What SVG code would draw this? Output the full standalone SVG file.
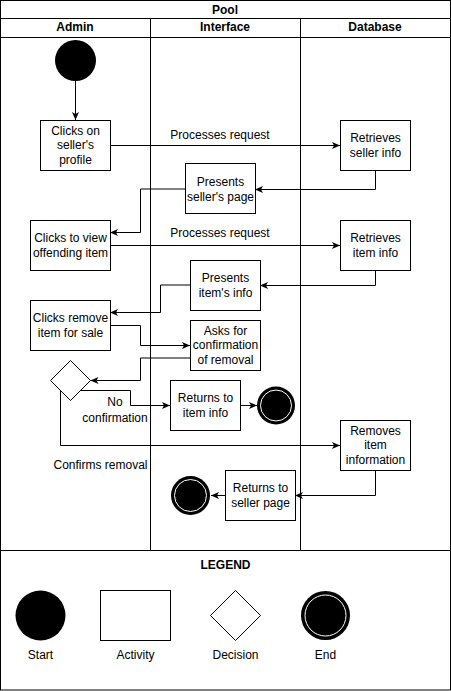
<svg xmlns="http://www.w3.org/2000/svg" width="451" height="691" viewBox="0 0 451 691">
<style>
text{font-family:"Liberation Sans",Arial,sans-serif;font-size:12px;fill:#000;text-anchor:middle}
.b{font-weight:bold}
.box{fill:#fff;stroke:#000;stroke-width:1}
.ln{fill:none;stroke:#000;stroke-width:1}
.edge{fill:none;stroke:#000;stroke-width:1;marker-end:url(#arr)}
</style>
<defs>
<marker id="arr" markerUnits="userSpaceOnUse" markerWidth="8" markerHeight="8" viewBox="0 0 8 8" refX="8" refY="4" orient="auto">
<path d="M0,0.5 L8,4 L0,7.5 L2,4 Z" fill="#000"/>
</marker>
</defs>
<rect width="451" height="691" fill="#fff"/>
<g id="pool">
<rect class="ln" x="0.5" y="0.5" width="450" height="550"/>
<line class="ln" x1="0.5" y1="18.5" x2="450.5" y2="18.5"/>
<line class="ln" x1="0.5" y1="37.5" x2="450.5" y2="37.5"/>
<line class="ln" x1="150.5" y1="18.5" x2="150.5" y2="550.5"/>
<line class="ln" x1="300.5" y1="18.5" x2="300.5" y2="550.5"/>
<text class="b" x="225" y="14">Pool</text>
<text class="b" x="75" y="31">Admin</text>
<text class="b" x="225" y="31">Interface</text>
<text class="b" x="375" y="31">Database</text>
</g>
<g id="connectors">
<path class="edge" d="M75.5,81 V120"/>
<path class="edge" d="M110,145.5 H340"/>
<path class="edge" d="M375.5,170 V189.5 H255"/>
<path class="edge" d="M185,189 H140.5 V232.5 H110"/>
<path class="edge" d="M110,245.5 H340"/>
<path class="edge" d="M375.5,270 V285.5 H260"/>
<path class="edge" d="M190,285 H160.5 V312.5 H110"/>
<path class="edge" d="M110,325.5 H140.5 V345.5 H190"/>
<path class="edge" d="M190,358 H140.5 V380.5 H90.5"/>
<path class="edge" d="M80,390.5 H130.5 V405.5 H170"/>
<path class="edge" d="M240,405.5 H257"/>
<path class="edge" d="M60.5,390 V445.5 H340"/>
<path class="edge" d="M375.5,470 V495.5 H295"/>
<path class="edge" d="M225,495.5 H211"/>
<text x="220" y="139">Processes request</text>
<text x="220" y="237">Processes request</text>
<text x="115" y="406">No</text>
<text x="115" y="422">confirmation</text>
<text x="100.5" y="469">Confirms removal</text>
</g>
<g id="start">
<circle cx="75.5" cy="60.5" r="20.5" fill="#000"/>
</g>
<g id="clicks-profile">
<rect class="box" x="40.5" y="120.5" width="70" height="50"/>
<text x="75.5" y="135">Clicks on</text>
<text x="75.5" y="149">seller's</text>
<text x="75.5" y="163.5">profile</text>
</g>
<g id="retrieves-seller">
<rect class="box" x="340.5" y="120.5" width="70" height="50"/>
<text x="375.5" y="142">Retrieves</text>
<text x="375.5" y="156.5">seller info</text>
</g>
<g id="presents-seller">
<rect class="box" x="185.5" y="163.5" width="70" height="50"/>
<text x="220.5" y="186">Presents</text>
<text x="220.5" y="201">seller's page</text>
</g>
<g id="clicks-view">
<rect class="box" x="30.5" y="220.5" width="80" height="50"/>
<text x="70.5" y="242">Clicks to view</text>
<text x="70.5" y="256.5">offending item</text>
</g>
<g id="retrieves-item">
<rect class="box" x="340.5" y="220.5" width="70" height="50"/>
<text x="375.5" y="242">Retrieves</text>
<text x="375.5" y="256.5">item info</text>
</g>
<g id="presents-item">
<rect class="box" x="190.5" y="260.5" width="70" height="50"/>
<text x="225.5" y="282">Presents</text>
<text x="225.5" y="296.5">item's info</text>
</g>
<g id="clicks-remove">
<rect class="box" x="30.5" y="300.5" width="80" height="50"/>
<text x="70.5" y="322">Clicks remove</text>
<text x="70.5" y="337">item for sale</text>
</g>
<g id="asks-confirm">
<rect class="box" x="190.5" y="320.5" width="70" height="50"/>
<text x="225.5" y="335">Asks for</text>
<text x="225.5" y="349">confirmation</text>
<text x="225.5" y="363.5">of removal</text>
</g>
<g id="decision">
<path class="box" d="M70.5,360.5 L90.5,380.5 L70.5,400.5 L50.5,380.5 Z"/>
</g>
<g id="returns-item">
<rect class="box" x="170.5" y="380.5" width="70" height="50"/>
<text x="205.5" y="402">Returns to</text>
<text x="205.5" y="416.5">item info</text>
</g>
<g id="end1">
<circle cx="276" cy="405.5" r="19" fill="#000"/>
<circle cx="276" cy="405.5" r="15.5" fill="#000" stroke="#fff" stroke-width="1"/>
</g>
<g id="removes-item">
<rect class="box" x="340.5" y="420.5" width="70" height="50"/>
<text x="375.5" y="434.5">Removes</text>
<text x="375.5" y="449">item</text>
<text x="375.5" y="463.5">information</text>
</g>
<g id="returns-seller">
<rect class="box" x="225.5" y="470.5" width="70" height="50"/>
<text x="260.5" y="491.5">Returns to</text>
<text x="260.5" y="506.5">seller page</text>
</g>
<g id="end2">
<circle cx="190.5" cy="495.5" r="19.5" fill="#000"/>
<circle cx="190.5" cy="495.5" r="16" fill="#000" stroke="#fff" stroke-width="1"/>
</g>
<g id="legend">
<rect class="ln" x="0.5" y="550.5" width="450" height="139.5"/>
<text class="b" x="225.5" y="569">LEGEND</text>
<circle cx="40.5" cy="615.5" r="25" fill="#000"/>
<text x="40.5" y="659">Start</text>
<rect class="box" x="100.5" y="590.5" width="70" height="50"/>
<text x="135.5" y="659">Activity</text>
<path class="box" d="M235.5,590.5 L260.5,615.5 L235.5,640.5 L210.5,615.5 Z"/>
<text x="235.5" y="659">Decision</text>
<circle cx="325.5" cy="615.5" r="24.5" fill="#000"/>
<circle cx="325.5" cy="615.5" r="20.5" fill="#000" stroke="#fff" stroke-width="1"/>
<text x="325.5" y="659">End</text>
</g>
</svg>
